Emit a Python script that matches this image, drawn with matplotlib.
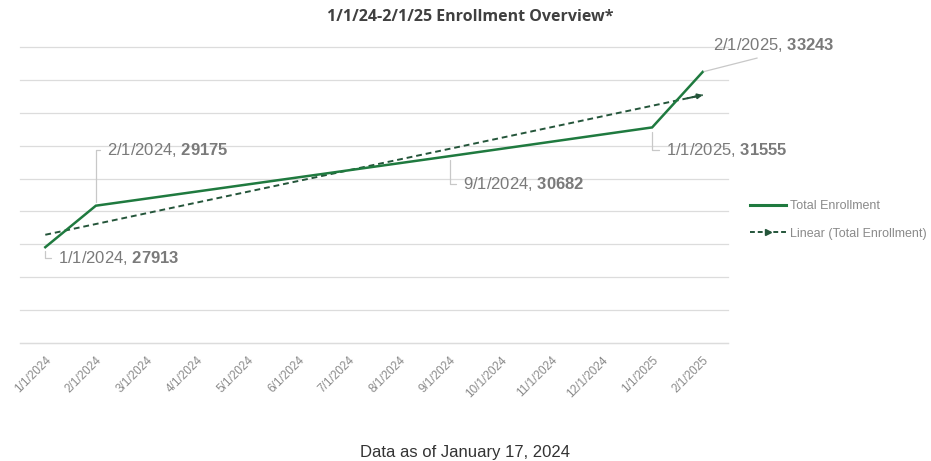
import matplotlib
matplotlib.use("Agg")
import matplotlib.pyplot as plt
import numpy as np

# ---- data ----
categories = ["1/1/2024", "2/1/2024", "3/1/2024", "4/1/2024", "5/1/2024", "6/1/2024",
              "7/1/2024", "8/1/2024", "9/1/2024", "10/1/2024", "11/1/2024", "12/1/2024",
              "1/1/2025", "2/1/2025"]
point_dates = ["1/1/2024", "2/1/2024", "9/1/2024", "1/1/2025", "2/1/2025"]
enrollment = [27913, 29175, 30682, 31555, 33243]
title = "1/1/24-2/1/25 Enrollment Overview*"
footer = "Data as of January 17, 2024"

plt.rcParams['font.family'] = ['Liberation Sans', 'DejaVu Sans']
plt.rcParams['mathtext.fontset'] = 'custom'
plt.rcParams['mathtext.rm'] = 'Liberation Sans'
plt.rcParams['mathtext.bf'] = 'Liberation Sans:bold'

GREEN = '#1f7a3f'
TREND = '#24553a'
GRID = '#dcdcdc'
LABEL = '#8a8a8a'

fig = plt.figure(figsize=(9.31, 4.61), dpi=100)
ax = fig.add_axes([20/931, 1-343/461, 708/931, 296/461])

xs = [categories.index(d) for d in point_dates]
ax.plot(xs, enrollment, color=GREEN, lw=1.8, solid_joinstyle='miter', zorder=3,
        label='Total Enrollment')

# linear trendline
coef = np.polyfit(xs, enrollment, 1)
tx = np.array([xs[0], xs[-1]], dtype=float)
ax.plot(tx, np.polyval(coef, tx), color=TREND, lw=1.4, ls=(0, (3, 2)), zorder=2)
ax.annotate('', xy=(tx[-1], np.polyval(coef, tx[-1])),
            xytext=(tx[-1] - 0.3, np.polyval(coef, tx[-1] - 0.3)),
            arrowprops=dict(arrowstyle='-|>', color=TREND, lw=1.4,
                            mutation_scale=7, shrinkA=0, shrinkB=0), zorder=2)

ax.set_xlim(-0.5, len(categories) - 0.5)
ax.set_ylim(25000, 34000)
ax.set_yticks(np.arange(25000, 34001, 1000))
ax.yaxis.grid(True, color=GRID, lw=0.9)
for gl in ax.get_ygridlines():
    gl.set_clip_on(False)
ax.set_axisbelow(True)
ax.tick_params(axis='y', left=False, labelleft=False)
ax.tick_params(axis='x', length=0, pad=8)
ax.set_xticks(range(len(categories)))
ax.set_xticklabels(categories, rotation=45, ha='right', va='top',
                   rotation_mode='anchor', fontsize=8.5, color=LABEL)
for s in ['top', 'right', 'left']:
    ax.spines[s].set_visible(False)
ax.spines['bottom'].set_color(GRID)
ax.spines['bottom'].set_linewidth(0.9)

# data labels
offsets = [(13, -11), (11, 56), (13, -28), (14, -23), (10, 27)]
for d, v, off in zip(point_dates, enrollment, offsets):
    i = categories.index(d)
    if off[1] == 27:
        ap = dict(arrowstyle='-', color='#c8c8c8', lw=0.9, relpos=(0.5, 0),
                  shrinkA=4, shrinkB=1)
    else:
        ap = dict(arrowstyle='-', color='#c8c8c8', lw=0.9, relpos=(0, 0.5),
                  connectionstyle='angle,angleA=0,angleB=90,rad=0',
                  shrinkA=3, shrinkB=3)
    ax.annotate(d + ", $\\mathbf{" + str(v) + "}$", xy=(i, v), xytext=off,
                textcoords='offset pixels', ha='left', va='center', fontsize=12,
                color='#7a7a7a', arrowprops=ap, zorder=4)

# legend (manual, to mimic Excel)
from matplotlib.lines import Line2D
h1 = Line2D([], [], color=GREEN, lw=2.2)
h2 = Line2D([], [], color=TREND, lw=1.4, ls=(0, (2.5, 1.5)), marker='>', markevery=[1],
            markersize=4)
leg = fig.legend([h1, h2], ['Total Enrollment', 'Linear (Total Enrollment)'],
                 loc='center left', bbox_to_anchor=(750/931, 1-220/461),
                 frameon=False, fontsize=9, handlelength=2.9, handletextpad=0.3,
                 labelspacing=1.25, labelcolor='#8a8a8a', borderaxespad=0, borderpad=0)

fig.text(470/931, 1-17/461, title, ha='center', va='center', fontsize=11.5,
         fontweight='bold', color='#404040', family=['Open Sans', 'DejaVu Sans'])
fig.text(465/931, 1-452/461, footer, ha='center', va='center', fontsize=12,
         color='#333333', family=['Liberation Sans Narrow', 'Liberation Sans'])

fig.savefig('out.png', dpi=100, facecolor='white')
